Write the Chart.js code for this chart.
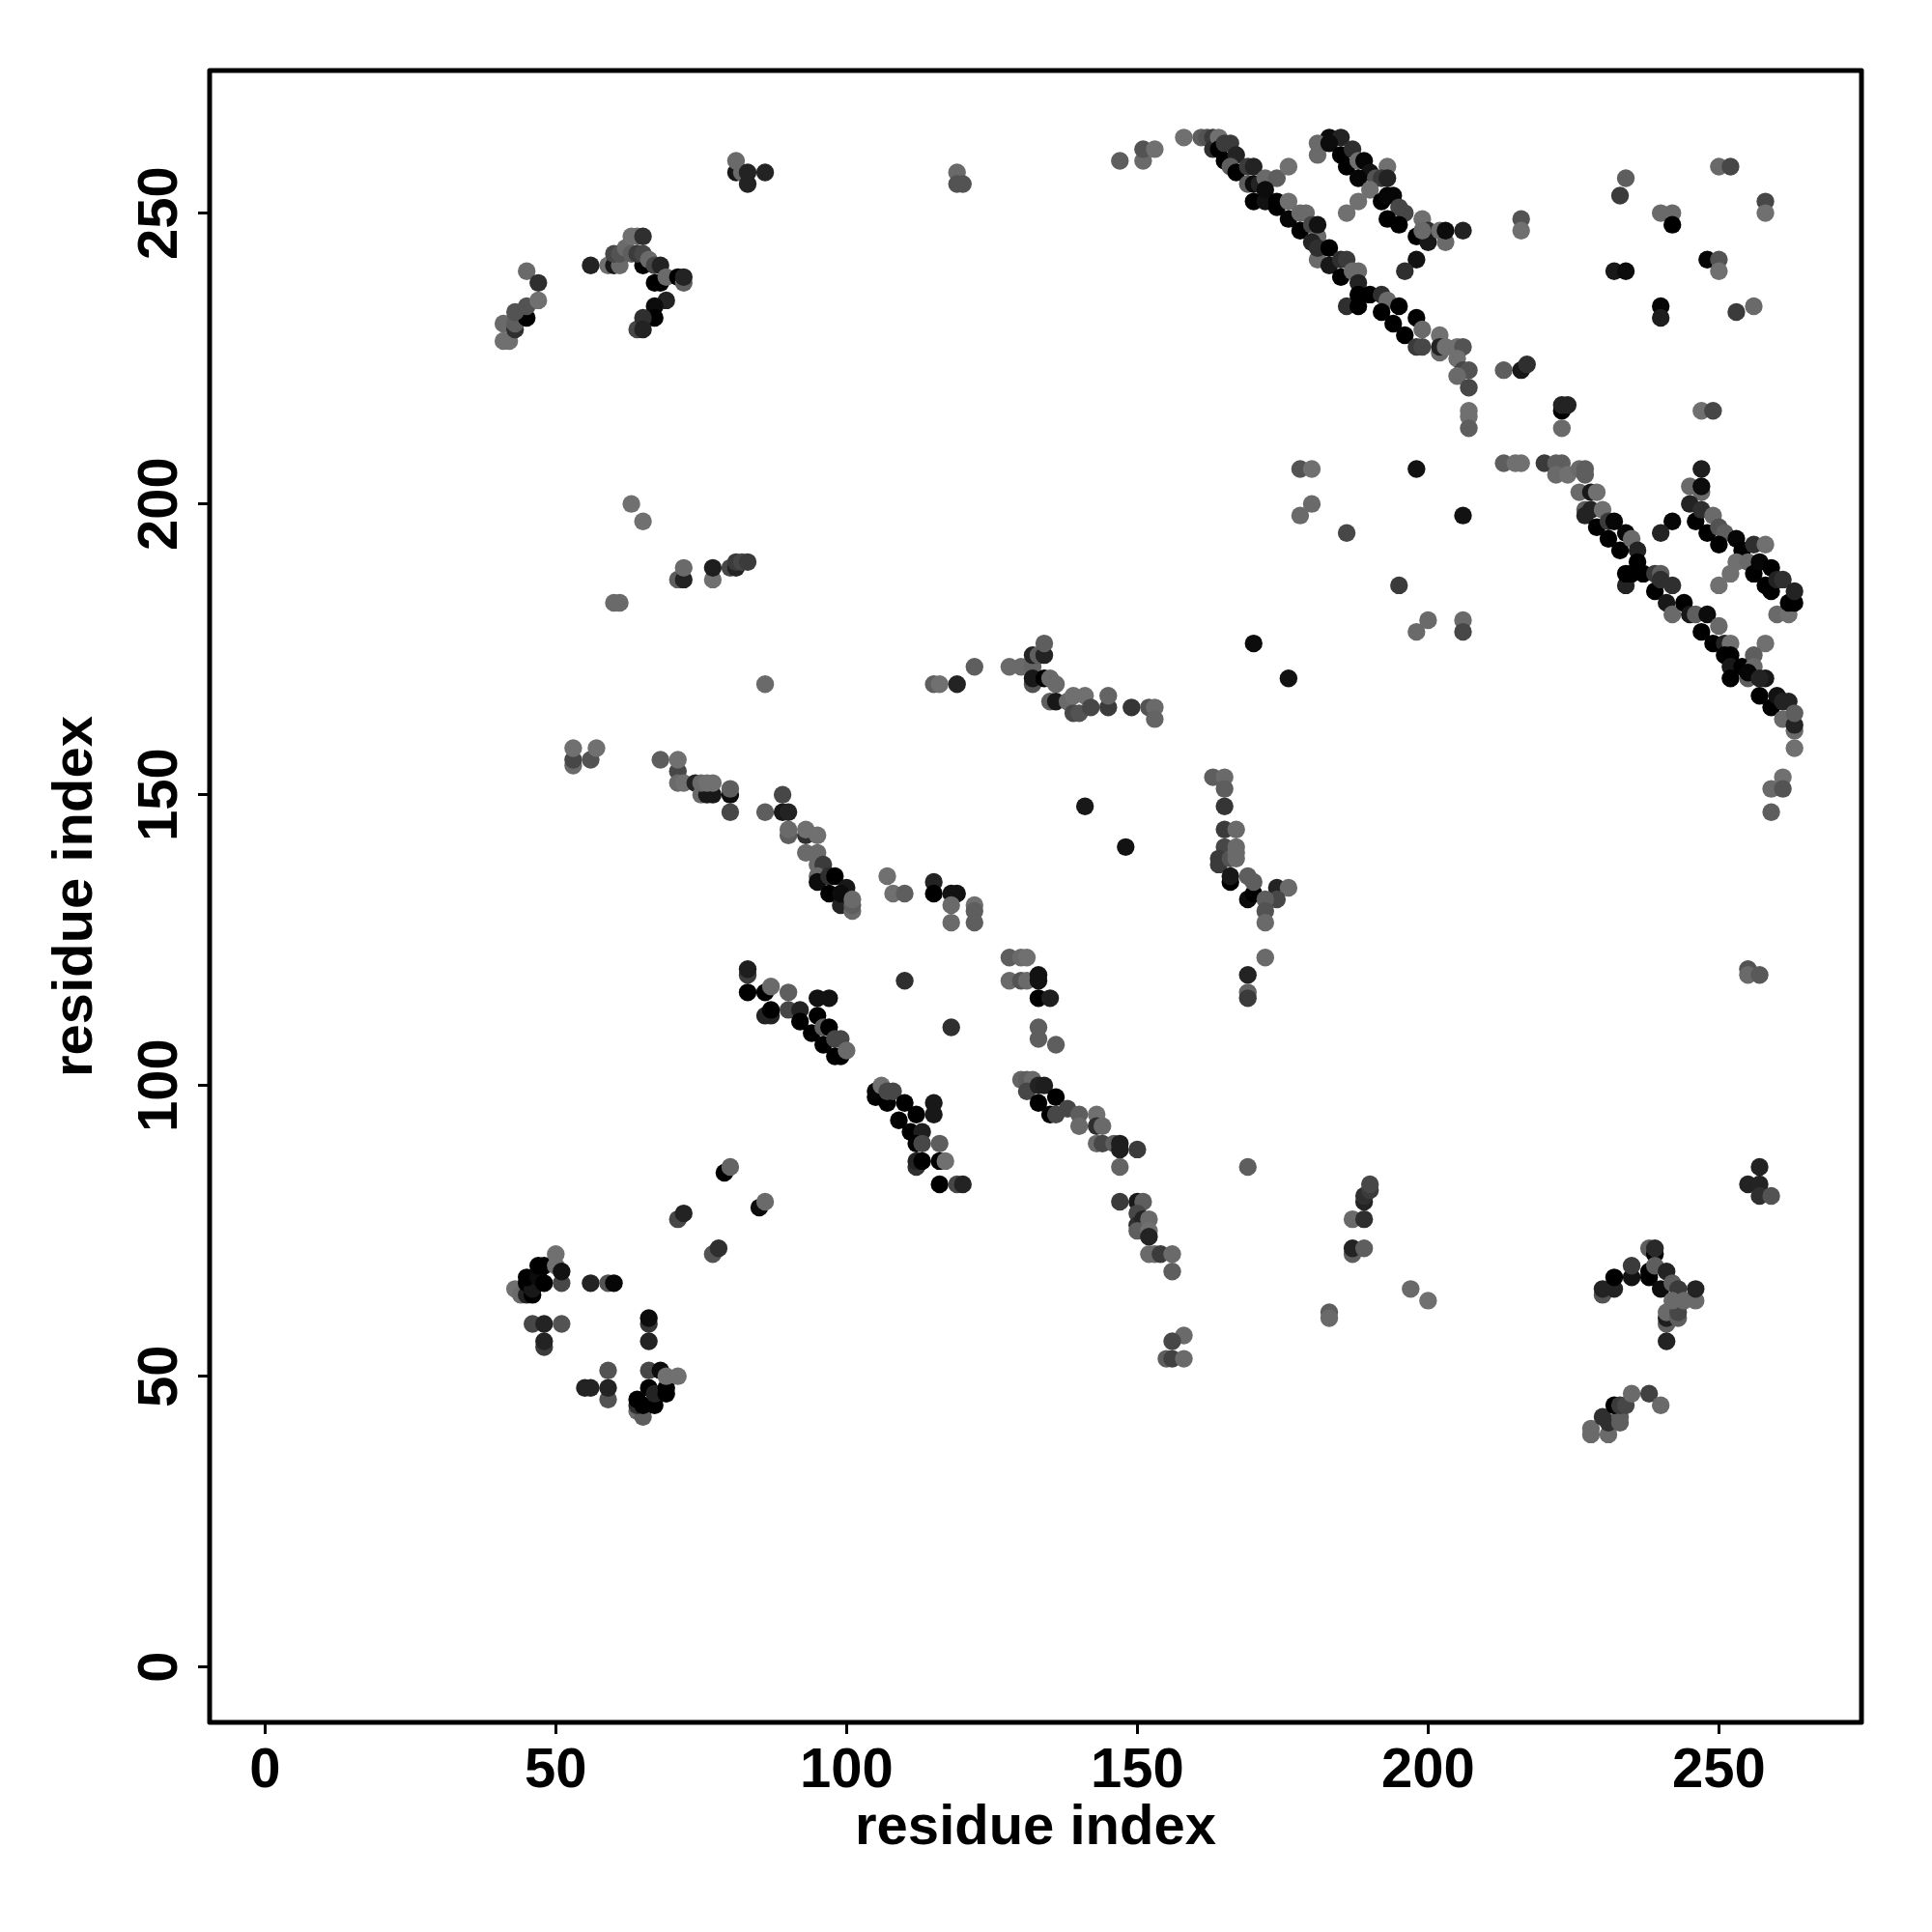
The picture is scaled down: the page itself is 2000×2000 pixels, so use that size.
<!DOCTYPE html>
<html lang="en">
<head>
    <meta charset="UTF-8">
    <title>Residue contact map</title>
    <script src="https://cdn.jsdelivr.net/npm/chart.js"></script>
    <style>
        html, body { margin: 0; padding: 0; background: #fff; }
        canvas { display: block; }
    </style>
</head>
<body>
    <canvas id="contactChart" width="2000" height="2000"></canvas>
    <script>
        const tickValues = [0, 50, 100, 150, 200, 250];
        const axisTitle = 'residue index';

        // one line per cluster, the three arrays line up
        const residueX = [
            81,82,81,83,83,86,
            119,119,120,
            41,41,42,43,43,44,45,43,45,45,47,47,
            59,60,61,56,60,61,62,63,64,65,
            65,67,68,63,64,65,66,67,68,69,
            71,72,72,69,67,67,64,65,65,
            63,65,71,72,72,77,77,80,81,81,82,83,
            60,61,
            147,151,151,153,
            158,161,162,163,163,164,164,165,166,165,167,
            166,167,169,170,169,170,171,172,174,176,
            170,172,172,174,174,176,176,178,179,178,
            180,181,181,181,180,181,183,183,185,185,186,
            187,188,188,186,188,188,190,192,193,192,195,198,
            194,196,198,199,199,202,202,202,203,205,206,205,
            206,207,205,207,207,207,207,
            178,180,198,213,215,216,213,216,217,223,223,224,223,216,216,
            183,185,181,181,183,185,187,186,188,189,190,188,
            193,191,192,193,190,188,186,192,193,194,195,196,
            193,195,199,198,200,200,199,202,203,203,206,198,196,
            232,234,233,234,240,242,242,240,240,248,250,250,256,253,247,249,250,252,258,258,
            220,222,223,222,224,226,227,227,
            226,228,229,227,227,228,230,229,231,231,232,234,
            233,235,236,236,234,234,235,237,239,239,240,240,
            242,241,242,244,245,246,248,247,250,249,251,252,
            251,252,252,252,254,258,256,256,255,255,257,
            258,257,259,260,261,262,261,263,263,263,263,261,259,261,259,
            247,245,247,247,245,246,247,249,248,250,251,250,
            253,254,256,258,252,250,253,255,256,257,259,258,
            260,262,259,260,261,262,263,263,
            206,206,206,242,240,178,180,186,195,200,198,170,176,141,148,
            53,53,53,56,57,68,71,71,71,72,
            74,75,76,77,75,76,77,80,80,80,
            86,89,89,90,90,90,93,93,95,93,95,95,
            96,95,95,97,98,97,100,99,99,101,101,101,
            107,108,110,115,115,118,119,118,122,122,118,122,
            128,130,131,128,130,131,133,133,133,135,133,133,136,
            110,118,
            83,83,83,86,87,90,95,97,86,87,87,90,
            92,92,94,95,96,97,96,98,99,98,99,100,
            105,105,106,107,107,108,109,110,112,111,
            115,115,113,112,113,116,112,112,113,116,117,116,119,120,
            79,80,71,72,85,86,77,78,
            86,115,116,119,122,128,130,132,132,133,134,134,
            132,132,134,135,136,135,136,138,139,139,140,141,
            142,145,145,149,152,153,153,
            163,165,165,165,165,167,165,167,164,164,166,167,
            167,166,166,169,169,170,170,174,176,174,172,172,172,
            172,169,169,169,169,
            130,131,132,131,133,134,133,136,135,136,138,140,
            140,143,143,144,143,144,146,147,147,150,147,
            147,150,151,150,150,151,150,152,152,152,152,153,154,156,156,
            158,156,155,156,158,
            43,44,45,45,46,46,45,47,48,47,48,50,50,51,51,
            56,59,60,46,48,51,48,48,66,66,66,
            55,56,59,59,59,
            64,65,64,64,65,67,66,67,69,69,66,68,69,71,
            183,183,197,200,187,189,187,187,189,189,189,190,190,
            255,255,257,257,255,257,257,259,
            230,230,232,232,235,235,238,239,239,238,238,239,
            240,241,242,243,241,241,241,241,243,243,244,246,246,242,
            228,228,231,230,231,233,233,232,233,234,235,238,240
        ];
        const residueY = [
            257,257,259,255,257,257,
            257,255,255,
            231,228,228,230,231,233,232,233,234,240,238,235,
            241,241,241,241,243,243,244,246,246,246,
            241,238,238,243,243,243,242,241,241,239,
            239,238,239,235,234,232,230,232,230,
            200,197,187,187,189,187,189,189,189,190,190,190,
            183,183,
            259,259,261,261,
            263,263,263,263,261,263,261,262,262,259,260,
            258,257,258,258,255,255,255,256,256,258,
            252,252,254,252,251,252,249,250,250,247,
            248,246,248,242,245,244,244,241,239,242,242,
            240,240,238,234,234,236,236,236,235,233,234,232,
            231,229,227,227,230,229,226,227,227,227,227,225,
            223,223,222,220,216,215,213,
            206,206,206,207,207,207,223,223,224,216,217,217,213,249,247,
            263,263,262,260,262,260,261,258,259,259,257,256,
            258,256,256,256,254,252,250,252,253,253,251,250,
            249,248,249,246,247,245,247,247,245,247,247,242,240,
            240,240,253,256,250,250,248,234,232,242,242,240,234,233,216,216,258,258,252,250,
            207,207,207,205,205,206,206,205,
            202,202,202,199,198,199,199,196,197,194,197,195,
            192,194,192,190,186,188,188,188,185,188,188,187,
            186,183,181,183,181,181,181,178,179,176,176,176,
            174,174,172,170,172,176,174,172,170,171,167,
            170,170,165,167,166,166,163,161,162,164,158,153,151,151,147,
            206,203,202,203,200,197,199,198,195,196,195,193,
            194,192,193,193,188,186,190,190,188,190,189,186,
            181,181,185,187,187,183,183,185,
            198,180,178,197,195,198,200,195,186,180,178,176,170,148,141,
            155,156,158,156,158,156,154,156,152,152,
            152,150,150,150,152,152,152,150,151,147,
            147,150,147,147,143,144,143,144,143,140,140,138,
            138,136,135,136,136,133,134,131,133,130,131,132,
            136,133,133,135,133,133,133,131,131,130,128,128,
            122,122,122,118,118,118,119,118,115,115,110,108,107,
            118,110,
            119,120,116,116,117,116,115,115,112,112,113,113,
            113,111,109,112,110,110,107,108,108,105,105,106,
            98,99,100,97,99,99,94,97,95,92,
            97,95,92,90,90,90,86,87,87,87,87,83,83,83,
            85,86,77,78,79,80,71,72,
            169,169,169,169,172,172,172,172,174,174,174,176,
            169,170,170,170,169,166,166,166,164,167,164,167,
            165,165,167,165,165,165,163,
            153,153,151,148,144,144,141,141,139,138,139,140,
            139,135,136,132,136,133,135,134,134,132,132,130,128,
            122,119,116,115,86,
            101,101,101,99,100,100,97,98,95,95,96,95,
            93,95,93,93,90,90,90,90,89,89,86,
            80,80,80,78,76,77,75,77,75,74,71,71,71,71,68,
            57,56,53,53,53,
            65,64,64,66,64,65,67,67,69,69,66,71,69,66,68,
            66,66,66,59,59,59,55,56,59,60,56,
            48,48,51,46,48,
            44,43,45,46,45,45,48,47,47,48,51,51,50,50,
            61,60,65,63,77,77,71,72,72,80,81,82,83,
            120,119,119,86,83,83,81,81,
            64,65,65,67,67,69,72,71,72,68,67,69,
            65,68,66,65,59,60,61,56,60,61,63,63,65,63,
            41,40,40,43,42,42,43,45,45,45,47,47,45
        ];
        // how strong the contact looks, 0 = lightest grey, 1 = black
        const contactStrength = [
            .8,.1,.1,.7,.7,.7,
            .1,.3,.3,
            .1,.05,.05,.6,.2,.1,1,.3,.3,.1,.6,.05,
            .05,.8,.1,.7,.4,.3,.1,.05,.05,.6,
            1,1,1,.2,.5,.4,.1,.4,.7,.1,
            1,.2,.7,.7,.9,1,.4,.6,.7,
            .05,.05,.2,.7,.1,.05,.75,.4,.7,.5,.4,.5,
            .1,.1,
            .2,.1,.3,.05,
            .05,.2,.3,.5,.6,.05,1,.5,.5,1,.7,
            .2,1,.5,.7,.2,.9,.7,.1,.2,.05,
            1,.85,.9,1,1,.05,.95,.1,.1,1,
            .4,.1,.85,.1,.7,.6,1,.8,1,.6,.5,
            .1,.1,.7,.6,1,1,1,.6,.1,1,1,1,
            1,1,.5,.4,.1,.05,.1,.7,.05,.05,.3,.05,
            .4,.3,.1,.4,.05,.05,.2,
            .3,.05,.85,.2,.05,.05,.2,.8,.6,1,.7,.7,.1,.3,.05,
            .9,.7,.1,.1,.9,1,.6,1,.05,.95,.85,.95,
            .05,.3,.5,.7,.05,.05,.05,1,.95,.95,.4,.4,
            1,1,.05,1,.6,.8,.1,.05,.1,.9,.7,.85,.6,
            .8,.9,.5,.2,.1,.1,1,.95,.75,.95,.3,.05,.1,.5,.05,.4,.1,.4,.4,.05,
            .5,.2,.2,.1,.05,.1,.2,.2,
            .1,.8,.05,.2,.7,.7,.05,1,.5,1,.95,.95,
            1,.1,.7,1,.7,1,1,1,1,.5,.2,.6,
            .6,.8,.1,1,.8,.2,.9,1,.1,1,.7,.05,
            1,1,.8,1,1,.05,.2,.1,.2,.95,1,
            .8,.7,1,.85,.7,.7,.1,.1,.7,.2,.05,.05,.1,.3,.2,
            .75,.1,.1,.9,.7,1,.6,.1,1,.3,.2,1,
            .95,1,.6,.05,.05,.05,.05,.1,1,.95,1,1,
            .1,.05,1,.7,.6,1,1,.7,
            .85,.1,.4,.95,.7,.1,.1,.4,.5,.1,.1,.9,.85,.8,.85,
            .1,.4,.05,.3,.05,.2,.4,.05,.1,.05,
            .7,.1,.8,.8,.1,.05,.05,.9,.2,.4,
            .2,.4,.8,.7,.2,.1,.6,.05,.05,.1,.1,.1,
            .5,.1,.9,.6,1,1,.8,.7,.9,.1,.2,.1,
            .05,.05,.2,.7,1,.85,.85,.1,.05,.2,.1,.2,
            .2,.1,.05,.1,.3,.1,.85,.85,1,.75,.2,.2,.2,
            .6,.6,
            .5,.75,1,1,.1,.2,.85,.85,.7,.7,1,.4,
            .7,1,1,1,.2,1,1,.4,.4,1,1,.1,
            1,.95,.05,1,.4,.4,1,1,1,1,
            .8,.8,.75,1,.4,.2,.6,.7,1,1,.05,1,.4,.7,
            1,.15,.4,.7,.9,.1,.3,.6,
            .1,.2,.05,.7,.2,.1,.1,.15,.7,.2,.7,.2,
            .3,.8,1,.1,.1,.2,.8,.1,.4,.05,.3,.05,
            .4,.5,.15,.55,.3,.1,.15,
            .2,.1,.2,.55,.5,.1,.4,.1,.5,.5,.3,.1,
            .1,1,.8,.9,.2,1,.2,.7,.1,.4,.2,.3,.1,
            .1,.7,.15,.5,.2,
            .15,.2,.1,.4,.7,.75,1,1,1,.4,.4,.2,
            .1,.05,.6,.1,.1,.4,.2,.75,.75,.5,.15,
            .5,.8,.2,.4,.6,.7,.2,.1,.05,.7,.1,.1,.5,.1,.2,
            .1,.4,.2,.45,.1,
            .05,.1,.7,1,1,.8,1,.9,1,1,1,.05,.05,.4,.85,
            .7,.3,.95,.4,.7,.3,.5,.7,.55,.9,.7,
            .7,.7,.3,.3,.7,
            .1,.2,.6,1,1,1,1,.7,1,1,.4,.9,.05,.05,
            .2,.1,.1,.05,.1,.6,.2,.7,.2,.7,.6,.5,.4,
            .3,.1,.25,.7,.7,.7,.6,.3,
            .3,.7,.7,1,.85,.5,.2,1,.65,1,1,.2,
            .9,.7,.2,.5,.2,.75,.1,.7,.2,.4,.1,.1,.7,.1,
            .1,.1,.1,.6,.6,.2,.2,1,.5,.4,.1,.45,.1
        ];

        const axisFont = { family: '"Liberation Sans", Arial, sans-serif', size: 58, weight: 'bold' };
        const greyOf = s => { const g = Math.round(118 * (1 - s)); return `rgb(${g},${g},${g})`; };

        // R style box round the plot
        const plotBox = {
            id: 'plotBox',
            afterDatasetsDraw(chart) {
                const { ctx, chartArea: a } = chart;
                ctx.save();
                ctx.strokeStyle = '#000';
                ctx.lineWidth = 5;
                ctx.lineJoin = 'round';
                ctx.strokeRect(a.left, a.top, a.right - a.left, a.bottom - a.top);
                ctx.restore();
            }
        };

        const commonTicks = {
            stepSize: 50,
            includeBounds: false,
            autoSkip: false,
            color: '#000',
            font: axisFont
        };
        const commonGrid = { drawOnChartArea: false, tickLength: 12, tickColor: '#000', tickWidth: 3 };

        new Chart(document.getElementById('contactChart').getContext('2d'), {
            type: 'scatter',
            data: {
                datasets: [{
                    data: residueX.map((x, i) => ({ x, y: residueY[i] })),
                    pointRadius: 9.2,
                    pointBorderWidth: 0,
                    pointBackgroundColor: contactStrength.map(greyOf)
                }]
            },
            options: {
                responsive: false,
                animation: false,
                layout: { padding: { top: 73, right: 73, left: 0, bottom: 0 } },
                plugins: { legend: { display: false }, tooltip: { enabled: false } },
                scales: {
                    x: {
                        type: 'linear',
                        min: -9.52,
                        max: 274.52,
                        afterFit: s => { s.height = 217; },
                        afterBuildTicks: s => { s.ticks = tickValues.map(value => ({ value })); },
                        border: { display: false },
                        grid: commonGrid,
                        ticks: { ...commonTicks, padding: 4, maxRotation: 0, minRotation: 0 },
                        title: { display: true, text: axisTitle, color: '#000', font: axisFont, padding: { top: 0, bottom: 72 } }
                    },
                    y: {
                        type: 'linear',
                        min: -9.52,
                        max: 274.52,
                        afterFit: s => { s.width = 217; },
                        afterBuildTicks: s => { s.ticks = tickValues.map(value => ({ value })); },
                        border: { display: false },
                        grid: commonGrid,
                        ticks: { ...commonTicks, padding: -10, minRotation: 90, maxRotation: 90, crossAlign: 'center' },
                        title: { display: true, text: axisTitle, color: '#000', font: axisFont, padding: { top: 44, bottom: 0 } }
                    }
                }
            },
            plugins: [plotBox]
        });
    </script>
</body>
</html>
